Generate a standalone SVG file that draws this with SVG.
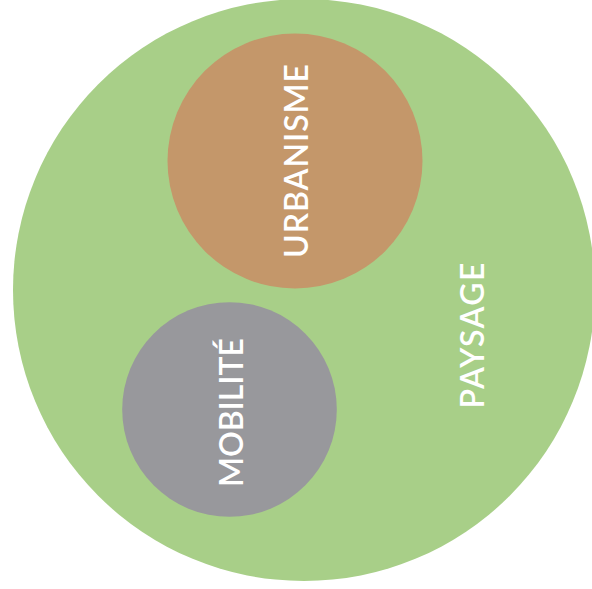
<svg xmlns="http://www.w3.org/2000/svg" width="592" height="589" viewBox="0 0 592 589">
  <style>
    .lbl { font-family: Lato, "Open Sans", "Liberation Sans", sans-serif; font-size: 32px; font-weight: 600; fill: #ffffff; text-anchor: middle; }
  </style>
  <rect width="592" height="589" fill="#ffffff"/>
  <g id="paysage">
    <circle cx="304" cy="290" r="291" fill="#a8cf88"/>
    <text class="lbl" transform="translate(483.5,335.5) rotate(-90)" textLength="146" lengthAdjust="spacing">PAYSAGE</text>
  </g>
  <g id="urbanisme">
    <circle cx="295" cy="161" r="127.5" fill="#c4976a"/>
    <text class="lbl" transform="translate(308,161) rotate(-90)" textLength="194" lengthAdjust="spacing">URBANISME</text>
  </g>
  <g id="mobilite">
    <circle cx="229.5" cy="409.5" r="107.3" fill="#98989c"/>
    <text class="lbl" transform="translate(243,412.5) rotate(-90)" textLength="149" lengthAdjust="spacing">MOBILITÉ</text>
  </g>
  <g id="connectors"/>
</svg>
